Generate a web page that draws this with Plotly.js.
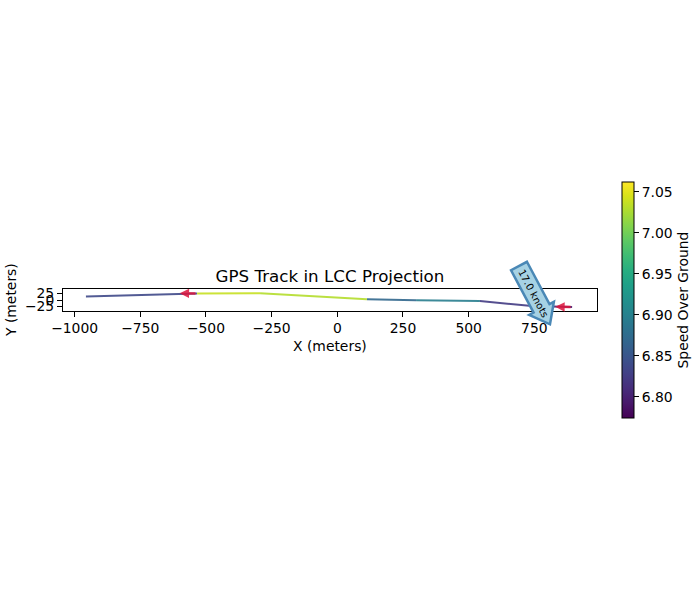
<!DOCTYPE html>
<html>
<head>
<meta charset="utf-8">
<script src="https://cdn.plot.ly/plotly-3.0.1.min.js"></script>
<style>html,body{margin:0;padding:0;background:#fff;}#chart{width:700px;height:600px;}</style>
</head>
<body>
<div id="chart"></div>
<script>
// ---- data ----
const track_x = [-957, -534, -294, 113, 300, 543, 741, 894];
const track_y = [13, 25, 26, 2.6, -1, -4, -23, -27];
const segment_speed = [6.837, 7.038, 7.030, 6.869, 6.895, 6.823, 6.800];
const speed_min = 6.774;
const speed_max = 7.062;
const arrow_tail_x = [-534, 894];
const arrow_tail_y = [25, -27];
const arrow_head_x = [-600, 830];
const arrow_head_y = [26, -26];
const label_text = "17.0 knots";
const x_ticks = [-1000, -750, -500, -250, 0, 250, 500, 750];
const y_ticks = [-25, 0, 25];
const cbar_ticks = [6.80, 6.85, 6.90, 6.95, 7.00, 7.05];

// ---- viridis helper ----
const viridis = [[0,'#440154'],[0.06274509803921569,'#48186a'],[0.12549019607843137,'#472d7b'],[0.18823529411764706,'#424086'],[0.25098039215686274,'#3b528b'],[0.3137254901960784,'#33638d'],[0.3764705882352941,'#2c728e'],[0.4392156862745098,'#26828e'],[0.5019607843137255,'#21918c'],[0.5647058823529412,'#1fa088'],[0.6274509803921569,'#28ae80'],[0.6901960784313725,'#3fbc73'],[0.7529411764705882,'#5ec962'],[0.8156862745098039,'#84d44b'],[0.8784313725490196,'#addc30'],[0.9411764705882353,'#d8e219'],[1,'#fde725']];
function hex2rgb(h){return [parseInt(h.slice(1,3),16),parseInt(h.slice(3,5),16),parseInt(h.slice(5,7),16)];}
function vcolor(v){
  let t=(v-speed_min)/(speed_max-speed_min); t=Math.max(0,Math.min(1,t));
  for(let i=1;i<viridis.length;i++){
    if(t<=viridis[i][0]){
      const a=viridis[i-1],b=viridis[i];const f=(t-a[0])/(b[0]-a[0]);
      const ca=hex2rgb(a[1]),cb=hex2rgb(b[1]);
      const c=ca.map((x,k)=>Math.round(x+(cb[k]-x)*f));
      return 'rgb('+c.join(',')+')';
    }
  }
  return viridis[viridis.length-1][1];
}
const minus = s => String(s).replace('-', '\u2212');
const FONT = 'DejaVu Sans, sans-serif';

// ---- traces ----
const traces = [];
for(let i=0;i<segment_speed.length;i++){
  traces.push({type:'scatter',mode:'lines',x:[track_x[i],track_x[i+1]],y:[track_y[i],track_y[i+1]],
    line:{color:vcolor(segment_speed[i]),width:2},opacity:0.9,hoverinfo:'skip',showlegend:false});
}
traces.push({type:'scatter',mode:'markers',x:[track_x[0]],y:[track_y[0]],showlegend:false,hoverinfo:'skip',
  marker:{size:0.1,opacity:0,color:[segment_speed[0]],colorscale:'Viridis',cmin:speed_min,cmax:speed_max,showscale:true,
    colorbar:{x:622/700,xanchor:'left',xpad:0,y:0.5,yanchor:'middle',ypad:0,len:236,lenmode:'pixels',thickness:12,
      outlinewidth:1,outlinecolor:'#000',ticks:'outside',ticklen:5,tickwidth:1,tickcolor:'#000',
      tickvals:cbar_ticks,ticktext:cbar_ticks.map(v=>v.toFixed(2)),tickfont:{family:FONT,size:13.9,color:'#000'},
      title:{text:'Speed Over Ground',side:'right',font:{family:FONT,size:13.9,color:'#000'}}}}});

// ---- annotations ----
const annotations = [];
for(let i=0;i<arrow_tail_x.length;i++){
  annotations.push({x:arrow_head_x[i],y:arrow_head_y[i],ax:arrow_tail_x[i],ay:arrow_tail_y[i],xref:'x',yref:'y',axref:'x',ayref:'y',
    text:'',showarrow:true,arrowhead:2,arrowsize:0.75,arrowwidth:2.5,arrowcolor:'rgba(220,20,60,0.85)',standoff:0,startstandoff:0});
}
// rotated "rarrow" label box (pixel geometry -> paper coords)
const th = 62*Math.PI/180, d=[Math.cos(th),Math.sin(th)], n=[-Math.sin(th),Math.cos(th)];
const back=[519,266];
function P(u,v){return [back[0]+u*d[0]+v*n[0], back[1]+u*d[1]+v*n[1]];}
const pts=[P(0,-9),P(48,-9),P(48,-14),P(66,0),P(48,14),P(48,9),P(0,9)];
const path='M'+pts.map(p=>(p[0]/700).toFixed(5)+','+(1-p[1]/600).toFixed(5)).join(' L')+' Z';
const tc=P(31,0);
annotations.push({xref:'paper',yref:'paper',x:tc[0]/700,y:1-tc[1]/600,xanchor:'center',yanchor:'middle',text:label_text,
  showarrow:false,textangle:62,font:{family:FONT,size:10,color:'#000'}});
// axis titles
annotations.push({xref:'paper',yref:'paper',x:330/700,y:1-346/600,xanchor:'center',yanchor:'middle',text:'X (meters)',showarrow:false,font:{family:FONT,size:13.9,color:'#000'}});
annotations.push({xref:'paper',yref:'paper',x:11/700,y:1-300/600,xanchor:'center',yanchor:'middle',text:'Y (meters)',textangle:-90,showarrow:false,font:{family:FONT,size:13.9,color:'#000'}});

const layout = {
  width:700,height:600,margin:{l:0,r:0,t:0,b:0},paper_bgcolor:'#fff',plot_bgcolor:'#fff',showlegend:false,
  title:{text:'GPS Track in LCC Projection',x:330/700,xref:'paper',xanchor:'center',y:1-276/600,yref:'paper',yanchor:'middle',font:{family:FONT,size:16.7,color:'#000'}},
  xaxis:{domain:[63/700,596.7/700],range:[-1044.3,987.6],showgrid:false,zeroline:false,showline:true,linecolor:'#000',linewidth:1,mirror:true,
    ticks:'outside',ticklen:5,tickwidth:1,tickcolor:'#000',tickvals:x_ticks,ticktext:x_ticks.map(minus),tickfont:{family:FONT,size:13.9,color:'#000'}},
  yaxis:{domain:[1-310.5/600,1-289/600],range:[-40,41.9],showgrid:false,zeroline:false,showline:true,linecolor:'#000',linewidth:1,mirror:true,
    ticks:'outside',ticklen:5,tickwidth:1,tickcolor:'#000',tickvals:y_ticks,ticktext:y_ticks.map(minus),tickfont:{family:FONT,size:13.9,color:'#000'}},
  shapes:[{type:'path',xref:'paper',yref:'paper',path:path,fillcolor:'#a6d2e4',line:{color:'#4a88b6',width:2.5},layer:'above'}],
  annotations:annotations
};
Plotly.newPlot('chart',traces,layout,{displayModeBar:false,staticPlot:true});
</script>
</body>
</html>
